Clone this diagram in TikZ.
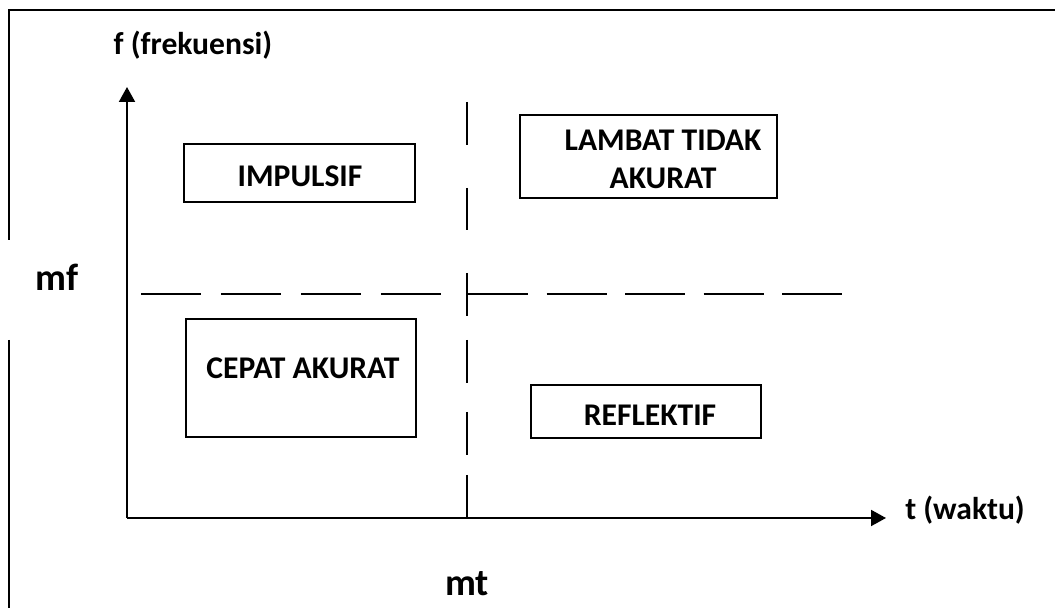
\documentclass[tikz,border=0pt]{standalone}
\usepackage{fontspec}
\setmainfont{Carlito}
\usetikzlibrary{arrows.meta}

\begin{document}
\begin{tikzpicture}[x=0.5pt, y=-0.5pt,
	kotak/.style = {draw, line width=0.9pt, inner sep=0pt},
	teks/.style = {font=\fontsize{15.8}{19}\selectfont\bfseries, align=center, inner sep=0pt},
	besar/.style = {font=\fontsize{19}{22}\selectfont\bfseries, inner sep=0pt},
	sumbu/.style = {line width=1pt, -{Triangle[length=7.5pt, width=8pt]}},
	garis/.style = {line width=1pt}]
		\useasboundingbox (0,0) rectangle (1055,608);
		% bingkai
		\draw[line width=1.2pt] (9,240) -- (9,10) -- (1055,10);
		\draw[line width=1.2pt] (9,340) -- (9,608);
		% sumbu
		\coordinate (O) at (127,518);
		\coordinate (ujungf) at (127,87);
		\coordinate (ujungt) at (886,518);
		\draw[sumbu] (O) -- (ujungf);
		\draw[sumbu] (O) -- (ujungt);
		\node (f) [teks] at (193,45) {f (frekuensi)};
		\node (t) [teks] at (965,510) {t (waktu)};
		\node (mf) [besar] at (57,277) {mf};
		\node (mt) [besar] at (467,584) {mt};
		% garis batas
		\draw[garis, dash pattern=on 30pt off 10pt] (141,294) -- (442,294);
		\draw[garis, dash pattern=on 30pt off 9.25pt] (468,294) -- (842,294);
		\foreach \a/\b in {102/145, 188/230, 273/316, 340/383, 412/455, 475/518}
			\draw[garis] (467,\a) -- (467,\b);
		% kotak
		\node (1) [kotak, minimum width=115.5pt, minimum height=29pt] at (299.5,173) {};
		\node (2) [kotak, minimum width=128.5pt, minimum height=41.5pt] at (648.5,156.5) {};
		\node (3) [kotak, minimum width=115pt, minimum height=59pt] at (301,378) {};
		\node (4) [kotak, minimum width=115pt, minimum height=26.5pt] at (646,411.5) {};
		\node (t1) [teks] at (300,176) {IMPULSIF};
		\node (t2) [teks] at (663,159) {LAMBAT TIDAK\\AKURAT};
		\node (t3) [teks] at (303,368) {CEPAT AKURAT};
		\node (t4) [teks] at (650,415) {REFLEKTIF};
	\end{tikzpicture}
\end{document}
